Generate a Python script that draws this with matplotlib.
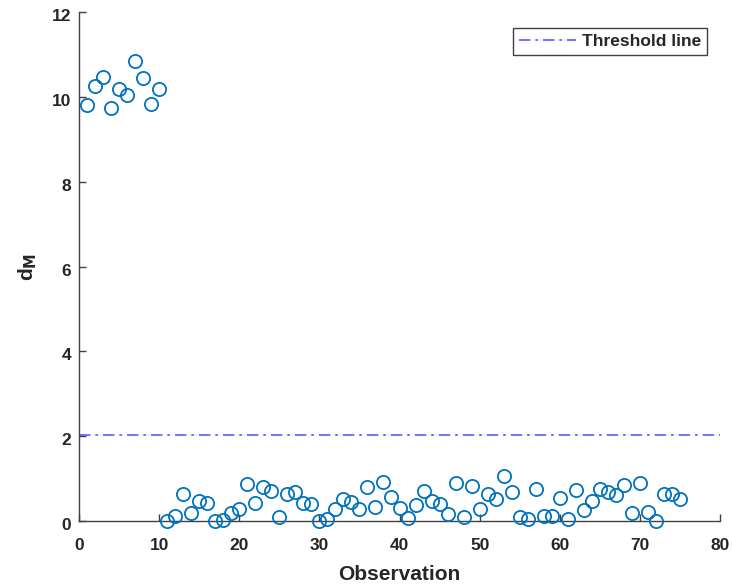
import matplotlib
matplotlib.use("Agg")
import matplotlib.pyplot as plt
import numpy as np

observations = list(range(1, 76))
d_m = [9.81, 10.26, 10.47, 9.74, 10.19, 10.05, 10.85, 10.45, 9.83, 10.19,
       0.01, 0.12, 0.63, 0.18, 0.47, 0.43, 0.01, 0.02, 0.20, 0.29,
       0.87, 0.43, 0.79, 0.71, 0.10, 0.64, 0.69, 0.42, 0.40, 0.00,
       0.04, 0.28, 0.53, 0.45, 0.28, 0.79, 0.34, 0.93, 0.57, 0.31,
       0.06, 0.37, 0.71, 0.46, 0.40, 0.17, 0.89, 0.10, 0.83, 0.29,
       0.64, 0.51, 1.07, 0.69, 0.10, 0.05, 0.75, 0.12, 0.12, 0.55,
       0.05, 0.73, 0.26, 0.47, 0.75, 0.69, 0.61, 0.86, 0.20, 0.89,
       0.22, 0.00, 0.64, 0.64, 0.51]
threshold = 2.03
x_limits = [0, 80]
y_limits = [0, 12]
x_ticks = list(range(0, 81, 10))
y_ticks = list(range(0, 13, 2))

plt.rcParams['font.family'] = ['Liberation Sans', 'DejaVu Sans']
txt = '#262626'

fig = plt.figure(figsize=(7.32, 5.84), dpi=100)
ax = fig.add_axes([79/732, (584-521)/584, (720-79)/732, (521-12)/584])

ax.plot(observations, d_m, linestyle='none', marker='o', markersize=9.5,
        markerfacecolor='none', markeredgecolor='#0072BD', markeredgewidth=1.3,
        clip_on=False, zorder=3)
line, = ax.plot(x_limits, [threshold, threshold], color='#4D4DFF', linewidth=1.1,
                label='Threshold line')
line.set_dashes([7.5, 3.2, 1.8, 3.2])

ax.set_xlim(x_limits)
ax.set_ylim(y_limits)
ax.set_xticks(x_ticks)
ax.set_yticks(y_ticks)
for s in ['top', 'right']:
    ax.spines[s].set_visible(False)
for s in ['left', 'bottom']:
    ax.spines[s].set_color('#404040')
    ax.spines[s].set_linewidth(1.0)
ax.tick_params(direction='in', length=5, width=1, colors='#404040',
               labelcolor=txt, labelsize=12.5)
for lab in ax.get_xticklabels() + ax.get_yticklabels():
    lab.set_fontweight('bold')
ax.tick_params(axis='x', pad=12.5)
ax.tick_params(axis='y', pad=5.5)
# shift y tick labels slightly down, as in the reference
import matplotlib.transforms as mtransforms
offset = mtransforms.ScaledTranslation(0, -3/100, fig.dpi_scale_trans)
for lab in ax.get_yticklabels():
    lab.set_transform(lab.get_transform() + offset)

ax.set_xlabel('Observation', fontsize=15, fontweight='bold', color=txt, labelpad=8.5)
ax.set_ylabel(r'd$_\mathbf{M}$', fontsize=15, fontweight='bold', color=txt, labelpad=9)

leg = ax.legend(loc='upper right', bbox_to_anchor=(707/732, (584-28)/584),
                bbox_transform=fig.transFigure, fancybox=False, framealpha=1,
                edgecolor='#404040', handlelength=3.3, handletextpad=0.3,
                borderpad=0.35, borderaxespad=0,
                prop={'weight': 'bold', 'size': 12.5})
leg.get_frame().set_linewidth(1.0)
for t in leg.get_texts():
    t.set_color(txt)

fig.savefig('out.png', dpi=100)
